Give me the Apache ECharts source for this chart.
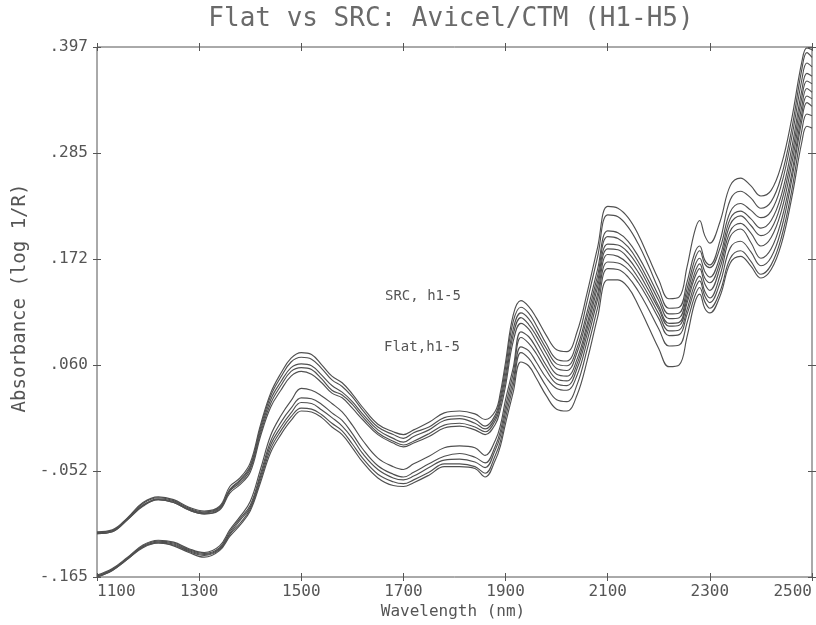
<!DOCTYPE html>
<html>
<head>
<meta charset="utf-8">
<title>Flat vs SRC: Avicel/CTM (H1-H5)</title>
<script src="https://cdn.jsdelivr.net/npm/echarts@6/dist/echarts.min.js"></script>
<style>
  html, body { margin: 0; padding: 0; background: #ffffff; }
  #chart { width: 816px; height: 625px; }
</style>
</head>
<body>
<div id="chart"></div>
<script>
// Wavelength sampling points (nm)
const wavelength = [1100,1130,1160,1190,1220,1250,1280,1310,1340,
  1360,1380,1400,1420,1440,1460,1480,1500,1520,1540,1560,1580,1600,1620,
  1650,1680,1700,1720,1750,1780,1810,1840,1860,1880,1890,1900,
  1915,1930,1945,1960,
  1980,2000,2020,2040,2060,2080,2100,2120,2140,2160,2180,2200,2220,2240,
  2255,2270,2280,2290,2300,
  2320,2340,2360,2380,2400,2420,2440,2460,2480,2490,2500];

// SRC spectra, samples h1-h5 (absorbance, log 1/R)
const srcH1 = [-0.117,-0.115,-0.102,-0.086,-0.080,-0.083,-0.091,-0.095,-0.090,
  -0.069,-0.060,-0.044,-0.004,0.030,0.051,0.067,0.073,0.071,0.060,0.048,0.041,0.029,0.015,
  -0.003,-0.011,-0.014,-0.009,-0.001,0.009,0.011,0.008,0.002,0.011,0.031,0.063,
  0.113,0.128,0.122,0.110,
  0.091,0.076,0.074,0.095,0.137,0.184,0.228,0.226,0.216,0.198,0.174,0.150,0.130,0.132,
  0.163,0.201,0.213,0.197,0.189,
  0.212,0.250,0.258,0.250,0.239,0.245,0.272,0.320,0.381,0.396,0.394];
const srcH2 = [-0.118,-0.116,-0.103,-0.087,-0.081,-0.084,-0.092,-0.096,-0.091,
  -0.072,-0.062,-0.047,-0.007,0.027,0.047,0.063,0.068,0.066,0.056,0.044,0.037,0.026,0.012,
  -0.006,-0.014,-0.018,-0.012,-0.006,0.004,0.006,0.002,-0.005,0.007,0.026,0.057,
  0.106,0.121,0.115,0.102,
  0.082,0.066,0.064,0.085,0.128,0.174,0.219,0.217,0.206,0.188,0.165,0.140,0.120,0.121,
  0.147,0.178,0.186,0.171,0.166,
  0.192,0.235,0.244,0.237,0.226,0.233,0.260,0.309,0.373,0.391,0.386];
const srcH3 = [-0.118,-0.116,-0.103,-0.089,-0.082,-0.085,-0.093,-0.097,-0.092,
  -0.073,-0.063,-0.049,-0.010,0.023,0.042,0.057,0.061,0.059,0.049,0.038,0.031,0.021,0.008,
  -0.009,-0.018,-0.022,-0.016,-0.009,0.001,0.003,-0.002,-0.008,0.004,0.022,0.050,
  0.098,0.115,0.109,0.096,
  0.077,0.061,0.059,0.078,0.117,0.161,0.202,0.200,0.191,0.175,0.155,0.133,0.114,0.115,
  0.140,0.171,0.181,0.167,0.163,
  0.184,0.222,0.231,0.224,0.216,0.223,0.251,0.300,0.362,0.380,0.376];
const srcH4 = [-0.119,-0.117,-0.104,-0.089,-0.083,-0.086,-0.094,-0.098,-0.093,
  -0.074,-0.065,-0.051,-0.013,0.019,0.038,0.053,0.057,0.055,0.045,0.033,0.028,0.018,0.005,
  -0.012,-0.021,-0.025,-0.021,-0.013,-0.004,-0.002,-0.006,-0.011,0.001,0.018,0.044,
  0.092,0.110,0.103,0.091,
  0.072,0.056,0.054,0.073,0.111,0.154,0.196,0.194,0.185,0.169,0.149,0.128,0.109,0.110,
  0.134,0.164,0.173,0.159,0.153,
  0.175,0.215,0.223,0.215,0.205,0.213,0.240,0.289,0.351,0.369,0.366];
const srcH5 = [-0.119,-0.117,-0.104,-0.090,-0.083,-0.086,-0.094,-0.098,-0.094,
  -0.076,-0.067,-0.054,-0.016,0.015,0.033,0.048,0.053,0.050,0.041,0.030,0.025,0.014,0.002,
  -0.014,-0.023,-0.027,-0.023,-0.016,-0.007,-0.005,-0.009,-0.014,-0.003,0.013,0.038,
  0.085,0.104,0.098,0.085,
  0.066,0.050,0.048,0.066,0.104,0.148,0.188,0.187,0.179,0.164,0.144,0.122,0.104,0.105,
  0.129,0.157,0.167,0.152,0.147,
  0.169,0.209,0.218,0.208,0.197,0.204,0.232,0.280,0.343,0.361,0.358];

// Flat spectra, samples h1-h5
const flatH1 = [-0.163,-0.156,-0.144,-0.131,-0.126,-0.128,-0.135,-0.139,-0.132,
  -0.115,-0.101,-0.085,-0.051,-0.015,0.006,0.022,0.035,0.033,0.027,0.019,0.010,-0.004,-0.020,
  -0.039,-0.048,-0.051,-0.045,-0.037,-0.028,-0.026,-0.028,-0.036,-0.020,-0.004,0.023,
  0.057,0.095,0.090,0.078,
  0.059,0.045,0.043,0.061,0.099,0.142,0.183,0.182,0.173,0.158,0.139,0.119,0.101,0.102,
  0.125,0.152,0.162,0.146,0.139,
  0.163,0.202,0.210,0.200,0.186,0.195,0.223,0.272,0.334,0.353,0.349];
const flatH2 = [-0.164,-0.157,-0.145,-0.132,-0.127,-0.129,-0.136,-0.140,-0.134,
  -0.117,-0.103,-0.089,-0.056,-0.021,-0.001,0.014,0.025,0.024,0.018,0.009,0.001,-0.013,-0.029,
  -0.047,-0.056,-0.059,-0.054,-0.045,-0.037,-0.034,-0.038,-0.044,-0.026,-0.010,0.016,
  0.051,0.089,0.083,0.072,
  0.054,0.040,0.038,0.056,0.093,0.135,0.177,0.175,0.167,0.152,0.134,0.114,0.096,0.097,
  0.118,0.145,0.154,0.138,0.131,
  0.155,0.196,0.204,0.190,0.173,0.183,0.213,0.262,0.326,0.345,0.342];
const flatH3 = [-0.164,-0.157,-0.145,-0.133,-0.128,-0.130,-0.137,-0.141,-0.135,
  -0.119,-0.105,-0.091,-0.059,-0.025,-0.006,0.009,0.020,0.019,0.012,0.004,-0.005,-0.018,-0.034,
  -0.051,-0.060,-0.062,-0.058,-0.049,-0.041,-0.040,-0.043,-0.049,-0.030,-0.015,0.010,
  0.044,0.079,0.075,0.063,
  0.046,0.035,0.033,0.049,0.086,0.129,0.169,0.168,0.161,0.147,0.129,0.109,0.091,0.092,
  0.113,0.139,0.149,0.133,0.126,
  0.147,0.184,0.191,0.180,0.165,0.174,0.204,0.255,0.319,0.338,0.334];
const flatH4 = [-0.165,-0.158,-0.146,-0.133,-0.129,-0.131,-0.138,-0.142,-0.136,
  -0.120,-0.108,-0.093,-0.062,-0.029,-0.010,0.005,0.014,0.013,0.007,-0.002,-0.010,-0.024,-0.039,
  -0.056,-0.064,-0.066,-0.062,-0.054,-0.045,-0.045,-0.048,-0.055,-0.036,-0.021,0.004,
  0.038,0.073,0.067,0.055,
  0.037,0.023,0.021,0.039,0.077,0.120,0.162,0.161,0.153,0.138,0.119,0.098,0.080,0.081,
  0.104,0.132,0.142,0.127,0.120,
  0.138,0.173,0.181,0.170,0.156,0.166,0.195,0.244,0.308,0.326,0.324];
const flatH5 = [-0.165,-0.158,-0.146,-0.134,-0.129,-0.132,-0.139,-0.144,-0.137,
  -0.122,-0.110,-0.095,-0.065,-0.033,-0.014,0.001,0.011,0.010,0.004,-0.006,-0.014,-0.028,-0.043,
  -0.060,-0.068,-0.069,-0.065,-0.057,-0.048,-0.048,-0.050,-0.059,-0.041,-0.026,-0.002,
  0.031,0.063,0.059,0.046,
  0.027,0.013,0.011,0.028,0.065,0.110,0.150,0.150,0.142,0.123,0.100,0.077,0.058,0.060,
  0.089,0.125,0.135,0.120,0.115,
  0.133,0.168,0.175,0.165,0.152,0.161,0.188,0.236,0.296,0.313,0.311];

// Axis ticks and their printed labels
const xTickValues = [1100, 1300, 1500, 1700, 1900, 2100, 2300, 2500];
const yTickValues = [-0.165, -0.0526, 0.0598, 0.1722, 0.2846, 0.397];
const yTickText = ['-.165', '-.052', '.060', '.172', '.285', '.397'];

const titleText = 'Flat vs SRC: Avicel/CTM (H1-H5)';
const xName = 'Wavelength (nm)';
const yName = 'Absorbance (log 1/R)';
const noteSrc = 'SRC, h1-5';
const noteFlat = 'Flat,h1-5';

const spectra = [
  ['SRC h1', srcH1], ['SRC h2', srcH2], ['SRC h3', srcH3], ['SRC h4', srcH4], ['SRC h5', srcH5],
  ['Flat h1', flatH1], ['Flat h2', flatH2], ['Flat h3', flatH3], ['Flat h4', flatH4], ['Flat h5', flatH5]
];

const MONO = '"DejaVu Sans Mono", "Liberation Mono", monospace';
const INK = '#555555';
const X_MIN = 1100, X_MAX = 2500, Y_MIN = -0.165, Y_MAX = 0.397;

// Axis that only draws cross-ticks straddling the frame edge
function tickOnlyAxis(pos, isX) {
  return {
    type: 'value', min: isX ? X_MIN : Y_MIN, max: isX ? X_MAX : Y_MAX,
    position: pos, offset: -4,
    axisLine: { show: false, onZero: false },
    axisLabel: { show: false },
    splitLine: { show: false },
    axisTick: {
      show: true, length: 8,
      customValues: isX ? xTickValues : yTickValues,
      lineStyle: { color: INK, width: 1 }
    }
  };
}

const chart = echarts.init(document.getElementById('chart'), null, { renderer: 'canvas' });

chart.setOption({
  animation: false,
  backgroundColor: '#ffffff',
  title: {
    text: titleText,
    left: 451, top: 6, textAlign: 'center', padding: 0,
    textStyle: { fontFamily: MONO, fontSize: 26, fontWeight: 'normal', color: '#6a6a6a' }
  },
  grid: {
    left: 97, right: 4, top: 47, bottom: 48,
    containLabel: false, outerBoundsMode: 'none',
    show: true, borderColor: INK, borderWidth: 1, backgroundColor: 'transparent'
  },
  xAxis: [
    {
      type: 'value', min: X_MIN, max: X_MAX, position: 'bottom',
      axisLine: { show: false, onZero: false }, axisTick: { show: false }, splitLine: { show: false },
      axisLabel: {
        customValues: xTickValues, margin: 7,
        alignMinLabel: 'left', alignMaxLabel: 'right',
        fontFamily: MONO, fontSize: 16, color: INK,
        formatter: function (v) { return String(Math.round(v)); }
      }
    },
    tickOnlyAxis('bottom', true),
    tickOnlyAxis('top', true)
  ],
  yAxis: [
    {
      type: 'value', min: Y_MIN, max: Y_MAX, position: 'left',
      axisLine: { show: false, onZero: false }, axisTick: { show: false }, splitLine: { show: false },
      axisLabel: {
        customValues: yTickValues, margin: 9,
        fontFamily: MONO, fontSize: 16, color: INK,
        formatter: function (v) {
          let best = 0;
          yTickValues.forEach(function (t, i) {
            if (Math.abs(t - v) < Math.abs(yTickValues[best] - v)) best = i;
          });
          return yTickText[best];
        }
      }
    },
    tickOnlyAxis('left', false),
    tickOnlyAxis('right', false)
  ],
  graphic: [
    // axis titles
    {
      type: 'text', x: 453, y: 612,
      style: { text: xName, font: '16px ' + MONO, fill: INK, align: 'center', verticalAlign: 'middle' }
    },
    {
      type: 'text', x: 20, y: 298, rotation: Math.PI / 2,
      style: { text: yName, font: '19px ' + MONO, fill: INK, align: 'center', verticalAlign: 'middle' }
    },
    // group annotations
    { type: 'text', left: 385, top: 289, style: { text: noteSrc, font: '14px ' + MONO, fill: INK } },
    { type: 'text', left: 384, top: 340, style: { text: noteFlat, font: '14px ' + MONO, fill: INK } }
  ],
  series: spectra.map(function (s) {
    return {
      name: s[0], type: 'line',
      xAxisIndex: 0, yAxisIndex: 0,
      data: wavelength.map(function (w, i) { return [w, s[1][i]]; }),
      showSymbol: false, smooth: 0.4,
      lineStyle: { color: '#505050', width: 1.15 },
      silent: true
    };
  })
});
</script>
</body>
</html>
